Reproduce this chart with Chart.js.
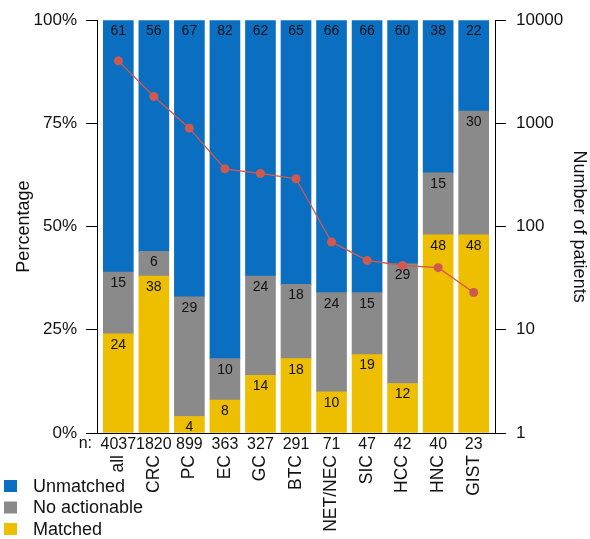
<!DOCTYPE html>
<html>
<head>
<meta charset="utf-8">
<script src="https://cdn.jsdelivr.net/npm/chart.js@4/dist/chart.umd.min.js"></script>
<style>
  html, body { margin: 0; padding: 0; background: #ffffff; }
  #wrap { width: 590px; height: 539px; }
</style>
</head>
<body>
<div id="wrap"><canvas id="c" width="590" height="539"></canvas></div>
<script>
// Tumour types and the number of patients in each group
const categories = ['all', 'CRC', 'PC', 'EC', 'GC', 'BTC', 'NET/NEC', 'SIC', 'HCC', 'HNC', 'GIST'];
const patientCounts = [4037, 1820, 899, 363, 327, 291, 71, 47, 42, 40, 23];

// Share of patients per group (%)
const matched      = [24, 38, 4, 8, 14, 18, 10, 19, 12, 48, 48];
const noActionable = [15, 6, 29, 10, 24, 18, 24, 15, 29, 15, 30];
const unmatched    = [61, 56, 67, 82, 62, 65, 66, 66, 60, 38, 22];

// Axis ticks
const percentTicks = [0, 25, 50, 75, 100];
const countTicks = [1, 10, 100, 1000, 10000];

const FONT = '"Liberation Sans", Arial, Helvetica, sans-serif';
const BLUE = '#0A6FC1';
const GREY = '#8A8A8A';
const GOLD = '#EEBE00';
const RED = '#D0594F';

const toXY = arr => arr.map((v, i) => ({ x: i, y: v }));

// Numbers written at the top of every bar segment
const segmentLabels = {
  id: 'segmentLabels',
  afterDatasetsDraw(chart) {
    const { ctx, chartArea } = chart;
    ctx.save();
    ctx.font = '14px ' + FONT;
    ctx.fillStyle = '#111';
    ctx.textAlign = 'center';
    ctx.textBaseline = 'middle';
    chart.data.datasets.forEach((ds, di) => {
      if (ds.type !== 'bar') return;
      const meta = chart.getDatasetMeta(di);
      meta.data.forEach((el, i) => {
        const top = Math.max(el.y, chartArea.top);
        ctx.fillText(String(ds.data[i].y), el.x, top + 11);
      });
    });
    ctx.restore();
  }
};

// Patient counts and group names under the x axis
const categoryAxis = {
  id: 'categoryAxis',
  afterDraw(chart) {
    const { ctx } = chart;
    const xs = chart.scales.x;
    ctx.save();
    ctx.fillStyle = '#111';
    ctx.font = '16px ' + FONT;
    ctx.textBaseline = 'middle';
    ctx.textAlign = 'right';
    ctx.fillText('n:', 92, 444);
    ctx.textAlign = 'center';
    categories.forEach((c, i) => {
      ctx.fillText(String(patientCounts[i]), xs.getPixelForValue(i), 445);
    });
    ctx.font = '17.5px ' + FONT;
    ctx.textAlign = 'right';
    categories.forEach((c, i) => {
      ctx.save();
      ctx.translate(xs.getPixelForValue(i), 455);
      ctx.rotate(-Math.PI / 2);
      ctx.fillText(c, 0, 0);
      ctx.restore();
    });
    ctx.restore();
  }
};

// Legend stacked in the lower-left corner
const cornerLegend = {
  id: 'cornerLegend',
  afterDraw(chart) {
    const { ctx } = chart;
    const items = chart.data.datasets.filter(d => d.type === 'bar').slice().reverse();
    ctx.save();
    ctx.font = '18px ' + FONT;
    ctx.textBaseline = 'middle';
    ctx.textAlign = 'left';
    items.forEach((d, k) => {
      const y = 486 + k * 21.5;
      ctx.fillStyle = d.backgroundColor;
      ctx.fillRect(4, y - 6, 13, 12);
      ctx.fillStyle = '#111';
      ctx.fillText(d.label, 33, y + 1);
    });
    ctx.restore();
  }
};

new Chart(document.getElementById('c'), {
  data: {
    datasets: [
      { type: 'line', label: 'Number of patients', data: toXY(patientCounts), yAxisID: 'y2', order: 0,
        borderColor: RED, backgroundColor: RED, borderWidth: 1.3, pointRadius: 4.5,
        pointBackgroundColor: RED, pointBorderWidth: 0, tension: 0 },
      { type: 'bar', label: 'Matched', data: toXY(matched), backgroundColor: GOLD, stack: 's', order: 1, yAxisID: 'y' },
      { type: 'bar', label: 'No actionable', data: toXY(noActionable), backgroundColor: GREY, stack: 's', order: 1, yAxisID: 'y' },
      { type: 'bar', label: 'Unmatched', data: toXY(unmatched), backgroundColor: BLUE, stack: 's', order: 1, yAxisID: 'y' }
    ]
  },
  options: {
    responsive: false,
    animation: false,
    devicePixelRatio: 1,
    layout: { padding: { top: 18, left: 0, right: 0, bottom: 0 } },
    datasets: { bar: { barThickness: 30, borderWidth: 0 } },
    plugins: { legend: { display: false }, tooltip: { enabled: false } },
    scales: {
      x: {
        type: 'linear', min: -0.6, max: 10.6, offset: false, stacked: true,
        ticks: { display: false },
        grid: { display: true, drawOnChartArea: false, drawTicks: false, offset: false },
        border: { display: true, color: '#000', width: 1, z: 1 },
        afterFit(s) { s.height = 106; }
      },
      y: {
        position: 'left', stacked: true, min: 0, max: 100,
        afterBuildTicks(s) { s.ticks = percentTicks.map(v => ({ value: v })); },
        ticks: { callback: v => v + '%', font: { family: FONT, size: 17 }, color: '#111', padding: 9 },
        grid: { drawOnChartArea: false, tickLength: 11, color: '#000' },
        border: { display: true, color: '#000', width: 1 },
        title: { display: true, text: 'Percentage', font: { family: FONT, size: 18 }, color: '#111', padding: { top: 13, bottom: 0 } },
        afterFit(s) { s.width = 97; }
      },
      y2: {
        type: 'logarithmic', position: 'right', min: 1, max: 10000,
        afterBuildTicks(s) { s.ticks = countTicks.map(v => ({ value: v })); },
        ticks: { callback: v => String(v), font: { family: FONT, size: 17 }, color: '#111', padding: 10 },
        grid: { drawOnChartArea: false, tickLength: 11, color: '#000' },
        border: { display: true, color: '#000', width: 1 },
        title: { display: true, text: 'Number of patients', font: { family: FONT, size: 18 }, color: '#111', padding: { top: 0, bottom: 0 } },
        afterFit(s) { s.width = 95; }
      }
    }
  },
  plugins: [segmentLabels, categoryAxis, cornerLegend]
});
</script>
</body>
</html>
